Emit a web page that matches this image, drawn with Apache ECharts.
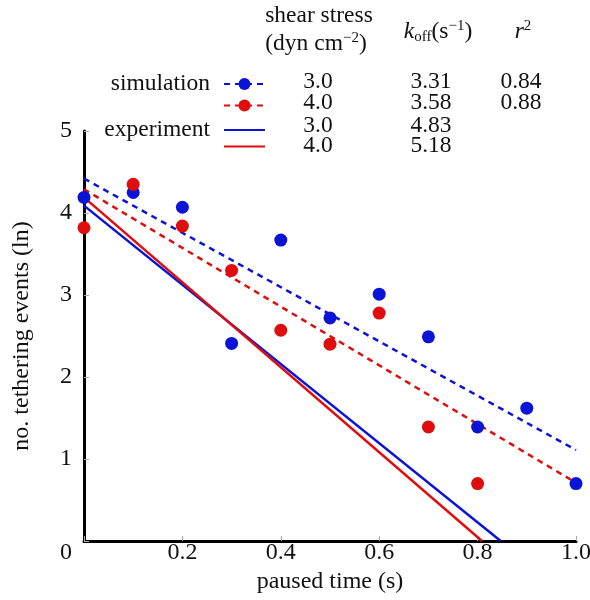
<!DOCTYPE html>
<html>
<head>
<meta charset="utf-8">
<script src="https://cdn.jsdelivr.net/npm/echarts@6/dist/echarts.min.js"></script>
<style>
  html, body { margin: 0; padding: 0; background: #fff; }
  #chart { width: 590px; height: 600px; }
</style>
</head>
<body>
<div id="chart"></div>
<script>
// paused time (s) and ln(no. tethering events)
const simTime3 = [0, 0.1, 0.2, 0.3, 0.4, 0.5, 0.6, 0.7, 0.8, 0.9, 1.0];
const simEvents3 = [4.19, 4.25, 4.07, 2.41, 3.67, 2.72, 3.01, 2.49, 1.39, 1.62, 0.70];
const simTime4 = [0, 0.1, 0.2, 0.3, 0.4, 0.5, 0.6, 0.7, 0.8];
const simEvents4 = [3.82, 4.35, 3.84, 3.30, 2.57, 2.40, 2.78, 1.39, 0.70];

// fitted lines (end points)
const simFit3 = [[0, 4.42], [1.0, 1.11]];
const simFit4 = [[0, 4.29], [1.0, 0.71]];
const expFit3 = [[0, 4.09], [0.847, 0]];
const expFit4 = [[0, 4.19], [0.809, 0]];

// legend table
const rowLabels = ["simulation", "", "experiment", ""];
const shearStress = ["3.0", "4.0", "3.0", "4.0"];
const koffValues = ["3.31", "3.58", "4.83", "5.18"];
const r2Values = ["0.84", "0.88", "", ""];
const seriesKeys = ["sim3", "sim4", "exp3", "exp4"];

const BLUE = "#0a14d6";
const RED = "#e00d0d";
const SERIF = "Liberation Serif";
const FS = 23.5;

const zip = (xs, ys) => xs.map((x, i) => [x, ys[i]]);

const numberRowY = [82, 103, 126, 146];
const iconRowY = [84, 107, 130, 148];
const textStyleBase = { fontFamily: SERIF, fontSize: FS, fill: "#111" };
const txt = (x, y, text, extra) => ({
  type: "text", x: x, y: y, silent: true,
  style: Object.assign({ text: text, textAlign: "center", textVerticalAlign: "middle" }, textStyleBase, extra || {})
});

let graphics = [];
numberRowY.forEach((y, i) => {
  graphics.push(txt(318, y, shearStress[i]));
  graphics.push(txt(431, y, koffValues[i]));
  if (r2Values[i]) graphics.push(txt(521, y, r2Values[i]));
});
// headers
const supStyle = { fontFamily: SERIF, fontSize: 15, fill: "#111", padding: [0, 0, 11, 0] };
graphics.push(txt(319, 16, "shear stress"));
graphics.push(txt(316, 44, "(dyn cm{sup|−2})", { rich: { sup: supStyle } }));
graphics.push(txt(438, 32, "{i|k}{sub|off}(s{sup|−1})", {
  rich: {
    i: { fontFamily: SERIF, fontSize: FS, fontStyle: "italic", fill: "#111" },
    sub: { fontFamily: SERIF, fontSize: 15, fill: "#111", padding: [10, 0, 0, 0] },
    sup: supStyle
  }
}));
graphics.push(txt(523, 32, "{i|r}{sup|2}", {
  rich: {
    i: { fontFamily: SERIF, fontSize: FS, fontStyle: "italic", fill: "#111" },
    sup: supStyle
  }
}));
// shared origin label
graphics.push(txt(66, 553, "0", { fontSize: 24 }));

const legends = seriesKeys.map((key, i) => ({
  data: [key],
  right: 324,
  top: iconRowY[i] - (rowLabels[i] ? 12 : 7.5),
  padding: 0,
  align: "right",
  itemWidth: 41,
  itemHeight: 15,
  selectedMode: false,
  formatter: () => rowLabels[i],
  itemStyle: key.indexOf("exp") === 0 ? { opacity: 0 } : {},
  textStyle: { fontFamily: SERIF, fontSize: FS, lineHeight: 24, color: "#111", padding: [0, 9, 0, 0] }
}));

const chart = echarts.init(document.getElementById("chart"));
chart.setOption({
  animation: false,
  backgroundColor: "#fff",
  textStyle: { fontFamily: SERIF },
  grid: { left: 84, right: 14, top: 131, bottom: 59, containLabel: false, outerBoundsMode: "none" },
  legend: legends,
  graphic: graphics,
  xAxis: {
    type: "value",
    min: 0, max: 1.0, interval: 0.2,
    name: "paused time (s)",
    nameLocation: "middle",
    nameGap: 25,
    nameTextStyle: { fontFamily: SERIF, fontSize: 24, color: "#111" },
    axisLine: { lineStyle: { color: "#000", width: 3 } },
    axisTick: { inside: true, length: 5, lineStyle: { color: "#aaa" } },
    axisLabel: {
      margin: 0, fontFamily: SERIF, fontSize: 24, color: "#111",
      formatter: v => (v === 0 ? "" : v.toFixed(1))
    },
    splitLine: { show: false }
  },
  yAxis: {
    type: "value",
    min: 0, max: 5, interval: 1,
    name: "no. tethering events (ln)",
    nameLocation: "middle",
    nameGap: 50,
    nameTextStyle: { fontFamily: SERIF, fontSize: 24, color: "#111" },
    axisLine: { show: true, lineStyle: { color: "#000", width: 3 } },
    axisTick: { show: true, inside: true, length: 5, lineStyle: { color: "#aaa" } },
    axisLabel: {
      margin: 12, fontFamily: SERIF, fontSize: 24, color: "#111",
      formatter: v => (v === 0 ? "" : String(v))
    },
    splitLine: { show: false }
  },
  series: [
    {
      name: "exp3", type: "line", data: expFit3,
      symbol: "none", color: BLUE,
      lineStyle: { color: BLUE, width: 2.5 }
    },
    {
      name: "exp4", type: "line", data: expFit4,
      symbol: "none", color: RED,
      lineStyle: { color: RED, width: 2.5 }
    },
    {
      name: "sim3", type: "line", data: simFit3,
      symbol: "circle", showSymbol: false, color: BLUE,
      lineStyle: { color: BLUE, width: 2.5, type: [6, 5] }
    },
    {
      name: "sim4", type: "line", data: simFit4,
      symbol: "circle", showSymbol: false, color: RED,
      lineStyle: { color: RED, width: 2.5, type: [6, 5] }
    },
    {
      name: "sim3", type: "scatter", data: zip(simTime3, simEvents3),
      symbolSize: 13, color: BLUE, clip: false, z: 5,
      itemStyle: { opacity: 1 }
    },
    {
      name: "sim4", type: "scatter", data: zip(simTime4, simEvents4),
      symbolSize: 13, color: RED, clip: false, z: 5,
      itemStyle: { opacity: 1 }
    }
  ]
});
</script>
</body>
</html>
